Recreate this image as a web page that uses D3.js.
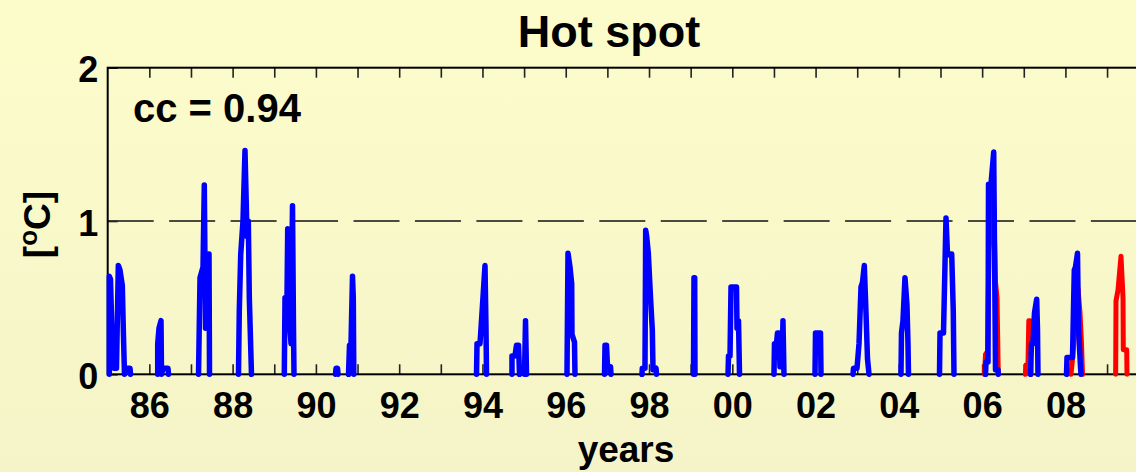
<!DOCTYPE html>
<html>
<head>
<meta charset="utf-8">
<script src="https://cdn.jsdelivr.net/npm/d3@7"></script>
<style>
html,body{margin:0;padding:0;background:#f8f8c8;}
svg{display:block;}
text{font-family:"Liberation Sans",Arial,Helvetica,sans-serif;font-weight:bold;fill:#000;}
</style>
</head>
<body>
<svg id="chart" width="1136" height="472"></svg>
<script>
// ---- data ----
const xDomain = [1985, 2010];
const yDomain = [0, 2];
const xTickYears = d3.range(1986, 2010);
const xLabelYears = [1986, 1988, 1990, 1992, 1994, 1996, 1998, 2000, 2002, 2004, 2006, 2008];
const yTickValues = [0, 1, 2];
const thresholdValue = 1;
const titleText = "Hot spot";
const xLabelText = "years";
const ccText = "cc = 0.94";

// blue series: episodes of [year, value]
const blueEpisodes = [
  [[1985.038,0],[1985.038,0.64],[1985.067,0.62],[1985.096,0.33],[1985.115,0.09],[1985.151,0.04],[1985.211,0.04],[1985.255,0.71],[1985.295,0.68],[1985.351,0.58],[1985.379,0.25],[1985.403,0],[1985.439,0.04],[1985.536,0.04],[1985.548,0]],
  [[1986.201,0],[1986.201,0.2],[1986.232,0.3],[1986.280,0.35],[1986.292,0],[1986.328,0.04],[1986.448,0.04],[1986.460,0]],
  [[1987.181,0],[1987.217,0.63],[1987.289,0.7],[1987.320,1.235],[1987.349,0.3],[1987.373,0.4],[1987.409,0.6],[1987.433,0.785],[1987.445,0]],
  [[1988.141,0],[1988.160,0.41],[1988.194,0.78],[1988.249,1.0],[1988.297,1.46],[1988.329,1.1],[1988.345,0.9],[1988.377,1.0],[1988.401,0.5],[1988.453,0]],
  [[1989.241,0],[1989.258,0.5],[1989.306,0.5],[1989.323,0.95],[1989.354,0.93],[1989.378,0.3],[1989.402,0.2],[1989.438,1.1],[1989.462,0.3],[1989.474,0]],
  [[1990.471,0],[1990.483,0.04],[1990.519,0.04],[1990.531,0]],
  [[1990.783,0],[1990.807,0.19],[1990.843,0.2],[1990.879,0.64],[1990.898,0.5],[1990.910,0]],
  [[1993.857,0],[1993.869,0.2],[1993.941,0.2],[1993.989,0.4],[1994.061,0.71],[1994.085,0.3],[1994.097,0]],
  [[1994.709,0],[1994.709,0.12],[1994.781,0.12],[1994.818,0.19],[1994.866,0.19],[1994.890,0]],
  [[1995.010,0],[1995.034,0.35],[1995.058,0]],
  [[1996.030,0],[1996.054,0.79],[1996.102,0.7],[1996.143,0.59],[1996.150,0.26],[1996.210,0.21],[1996.222,0]],
  [[1996.931,0],[1996.943,0.19],[1996.979,0.19],[1997.003,0.05],[1997.075,0.05],[1997.087,0]],
  [[1997.831,0],[1997.839,0.04],[1997.903,0.04],[1997.920,0.94],[1997.944,0.9],[1997.983,0.79],[1998.036,0.5],[1998.079,0.29],[1998.096,0.03],[1998.168,0.04],[1998.180,0]],
  [[1999.068,0],[1999.080,0.63],[1999.097,0.63],[1999.104,0]],
  [[1999.897,0],[1999.909,0.12],[1999.945,0.12],[1999.969,0.57],[2000.101,0.57],[2000.113,0.3],[2000.149,0.35],[2000.173,0]],
  [[2001.001,0],[2001.013,0.2],[2001.061,0.2],[2001.085,0.27],[2001.121,0.27],[2001.145,0.05],[2001.193,0.05],[2001.217,0.35],[2001.241,0]],
  [[2001.986,0],[2001.998,0.27],[2002.118,0.27],[2002.130,0]],
  [[2002.899,0],[2002.911,0.04],[2002.995,0.04],[2003.043,0.2],[2003.091,0.57],[2003.127,0.6],[2003.170,0.71],[2003.211,0.4],[2003.247,0.1],[2003.283,0]],
  [[2004.051,0],[2004.063,0.27],[2004.099,0.35],[2004.147,0.63],[2004.195,0.45],[2004.219,0.2],[2004.231,0]],
  [[2004.976,0],[2004.988,0.27],[2005.072,0.27],[2005.132,1.02],[2005.168,0.78],[2005.269,0.785],[2005.307,0.41],[2005.324,0]],
  [[2006.081,0],[2006.093,0.08],[2006.141,0.08],[2006.153,1.24],[2006.213,1.24],[2006.278,1.45],[2006.321,0.03],[2006.381,0.03],[2006.388,0]],
  [[2007.161,0],[2007.185,0.2],[2007.221,0.2],[2007.257,0.4],[2007.310,0.49],[2007.329,0.3],[2007.341,0]],
  [[2008.026,0],[2008.038,0.11],[2008.170,0.11],[2008.213,0.68],[2008.242,0.7],[2008.290,0.79],[2008.314,0.3],[2008.362,0.05],[2008.374,0]]
];

// red series: episodes of [year, value]
const redEpisodes = [
  [[2006.057,0],[2006.081,0.13],[2006.129,0.15],[2006.165,0.8],[2006.213,1.0],[2006.261,1.3],[2006.321,0.6],[2006.357,0.5],[2006.369,0.3],[2006.388,0]],
  [[2007.041,0],[2007.053,0.06],[2007.101,0.06],[2007.121,0.35],[2007.149,0.35],[2007.173,0]],
  [[2008.134,0],[2008.170,0.1],[2008.230,0.3],[2008.302,0.56],[2008.350,0.4],[2008.386,0.2],[2008.410,0]],
  [[2009.207,0],[2009.215,0.48],[2009.263,0.55],[2009.335,0.77],[2009.383,0.5],[2009.390,0.16],[2009.472,0.16],[2009.479,0]]
];

// ---- layout ----
const W = 1136, H = 472;
const mLeft = 107.7, mTop = 67.7, mBottom = 374.3;
const pxPerYear = 41.64;
const mRight = mLeft + (xDomain[1] - xDomain[0]) * pxPerYear;

const svg = d3.select("#chart");
const defs = svg.append("defs");
const grad = defs.append("linearGradient").attr("id","bg").attr("x1",0).attr("y1",0).attr("x2",0).attr("y2",1);
grad.append("stop").attr("offset","0%").attr("stop-color","#fcfccb");
grad.append("stop").attr("offset","100%").attr("stop-color","#f4f4c8");
svg.append("rect").attr("width",W).attr("height",H).attr("fill","url(#bg)");

const x = d3.scaleLinear().domain(xDomain).range([mLeft, mRight]);
const y = d3.scaleLinear().domain(yDomain).range([mBottom, mTop]);

// threshold dashed line
svg.append("line")
  .attr("x1", x(xDomain[0])).attr("x2", x(xDomain[1]))
  .attr("y1", y(thresholdValue)).attr("y2", y(thresholdValue))
  .attr("stroke","#4a4a40").attr("stroke-width",2)
  .attr("stroke-dasharray","46,15.45");

// axes
const fmt = d => xLabelYears.includes(d) ? String(d % 100).padStart(2,"0") : "";
const gx = svg.append("g").attr("transform",`translate(0,${mBottom})`)
  .call(d3.axisBottom(x).tickValues(xTickYears).tickSize(-10).tickSizeOuter(0).tickFormat(fmt));
gx.select(".domain").remove();
gx.selectAll(".tick line").attr("stroke","#222").attr("stroke-width",1.6);
gx.selectAll(".tick text").attr("y",44).attr("dy",null)
  .style("font-size","36px").style("font-family","'Liberation Sans',Arial,sans-serif").style("font-weight","bold").attr("fill","#000");

const gt = svg.append("g").attr("transform",`translate(0,${mTop})`)
  .call(d3.axisTop(x).tickValues(xTickYears).tickSize(-10).tickSizeOuter(0).tickFormat(""));
gt.select(".domain").remove();
gt.selectAll(".tick line").attr("stroke","#222").attr("stroke-width",1.6);

const gy = svg.append("g").attr("transform",`translate(${mLeft},0)`)
  .call(d3.axisLeft(y).tickValues(yTickValues).tickSize(-10).tickSizeOuter(0).tickFormat(d3.format("d")));
gy.select(".domain").remove();
gy.selectAll(".tick line").attr("stroke","#222").attr("stroke-width",1.6);
gy.selectAll(".tick text").attr("x",-9.5).attr("dy",null).attr("y",14)
  .style("font-size","36px").style("font-family","'Liberation Sans',Arial,sans-serif").style("font-weight","bold").attr("fill","#000");

// frame
svg.append("rect").attr("x",mLeft).attr("y",mTop).attr("width",mRight-mLeft).attr("height",mBottom-mTop)
  .attr("fill","none").attr("stroke","#000").attr("stroke-width",2);

// series
const line = d3.line().x(d => x(d[0])).y(d => y(d[1]));
svg.append("g").selectAll("path").data(redEpisodes).join("path")
  .attr("d", line).attr("fill","none").attr("stroke","#ff0000").attr("stroke-width",5)
  .attr("stroke-linejoin","round").attr("stroke-linecap","round");
svg.append("g").selectAll("path").data(blueEpisodes).join("path")
  .attr("d", line).attr("fill","none").attr("stroke","#0000ff").attr("stroke-width",5.5)
  .attr("stroke-linejoin","round").attr("stroke-linecap","round");

// texts
svg.append("text").attr("x",133).attr("y",121.7).style("font-size","40px").text(ccText);
svg.append("text").attr("x",609).attr("y",47).attr("text-anchor","middle").style("font-size","45px").text(titleText);
svg.append("text").attr("x",626).attr("y",461.5).attr("text-anchor","middle").style("font-size","37px").text(xLabelText);

const yl = svg.append("text").attr("transform","translate(50,224.5) rotate(-90)")
  .attr("text-anchor","middle").style("font-size","37px");
yl.append("tspan").text("[");
yl.append("tspan").attr("dy",-13).style("font-size","26px").text("o");
yl.append("tspan").attr("dy",13).text("C]");
</script>
</body>
</html>
